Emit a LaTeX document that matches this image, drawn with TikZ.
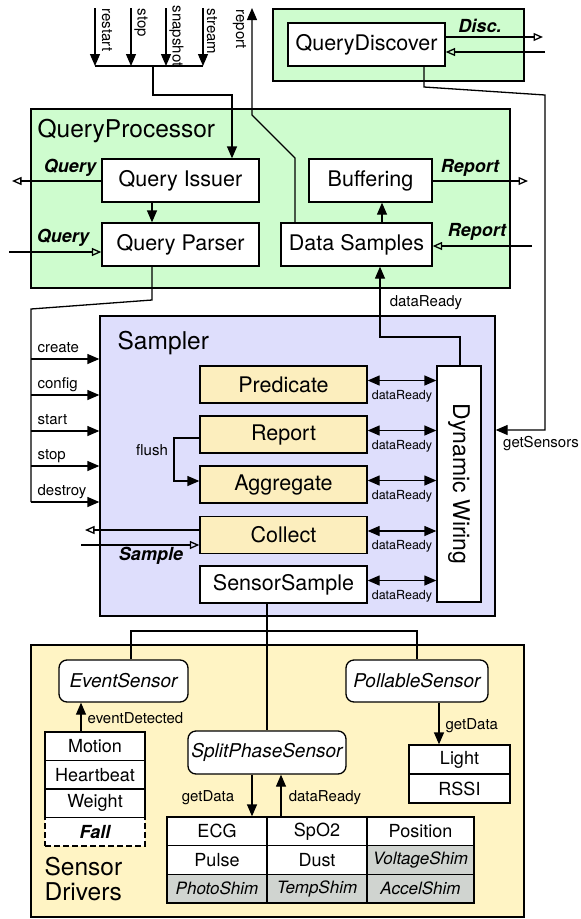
\documentclass[tikz,border=0pt]{standalone}
\usepackage{fontspec}
\setmainfont{TeX Gyre Heros}
\usetikzlibrary{arrows.meta}
\definecolor{qpgreen}{RGB}{206,252,206}
\definecolor{lav}{RGB}{222,222,252}
\definecolor{sdyellow}{RGB}{255,244,196}
\definecolor{byellow}{RGB}{252,238,190}
\definecolor{shimgray}{RGB}{208,212,208}
\newcommand{\fsz}[1]{\fontsize{#1}{#1}\selectfont}
\begin{document}
\begin{tikzpicture}[x=1pt,y=-1pt,line width=1.3pt,
  box/.style={draw,fill=white,inner sep=0pt,font=\fsz{21.5}},
  ybox/.style={box,fill=byellow,minimum width=167pt,minimum height=37pt},
  grp/.style={draw,inner sep=0pt},
  arr/.style={-{Triangle[length=12pt,width=10pt]}},
  oarr/.style={-{Triangle[open,length=9.5pt,width=8pt]}},
  barr/.style={{Triangle[length=12pt,width=10pt]}-{Triangle[length=12pt,width=10pt]}},
  lbl/.style={font=\fsz{15},inner sep=0pt},
  slbl/.style={font=\fsz{12.5},inner sep=0pt},
  bil/.style={font=\bfseries\itshape\fsz{18},inner sep=0pt},
  ttl/.style={font=\fsz{24.5},anchor=west,inner sep=0pt},
  cell/.style={draw,fill=white,minimum width=100pt,minimum height=28.5pt,inner sep=0pt,font=\fsz{18}},
  gcell/.style={cell,minimum height=28.7pt},
  shim/.style={gcell,fill=shimgray,font=\itshape\fsz{17}},
  sens/.style={draw,fill=white,rounded corners=8pt,inner sep=0pt,font=\itshape\fsz{19}}]
\fill[white] (0,0) rectangle (581,919);
\useasboundingbox (0,0) rectangle (581,919);

% ---------- group rectangles ----------
\node[grp,fill=qpgreen,minimum width=251pt,minimum height=72pt] (dg) at (398.5,45) {};
\node[grp,fill=qpgreen,minimum width=479pt,minimum height=179pt] (qp) at (270.5,198.5) {};
\node[grp,fill=lav,minimum width=395pt,minimum height=300pt] (sampler) at (297.5,466) {};
\node[grp,fill=sdyellow,minimum width=493pt,minimum height=272pt] (sd) at (277.5,781) {};

% ---------- titles ----------
\node[ttl] (tqp) at (37,131) {QueryProcessor};
\node[ttl] (tsa) at (117,343) {Sampler};
\node[font=\fsz{24.5},anchor=north west,align=left,inner sep=0pt] (tsd) at (44,857) {\fontsize{24.5}{26}\selectfont Sensor\\Drivers};

% ---------- Discovery ----------
\node[box,minimum width=157pt,minimum height=43pt] (qd) at (366.5,44.5) {QueryDiscover};
\node[bil] (ldisc) at (480,26) {Disc.};
\coordinate (qdo) at (543,37);
\coordinate (qdi) at (545,52);
\draw[oarr] (qd.east |- qdo) -- (qdo);
\draw[oarr] (qdi) -- (qd.east |- qdi);

% ---------- QueryProcessor boxes ----------
\node[box,minimum width=157pt,minimum height=43pt] (qi) at (180.5,180.5) {Query Issuer};
\node[box,minimum width=157pt,minimum height=43pt] (qpa) at (180.5,244.5) {Query Parser};
\node[box,minimum width=123pt,minimum height=43pt] (buf) at (370.5,180.5) {Buffering};
\node[box,minimum width=151pt,minimum height=43pt] (ds) at (356.5,244.5) {Data Samples};

\node[bil] (lq1) at (70,168) {Query};
\node[bil] (lq2) at (63,238) {Query};
\node[bil] (lr1) at (470,168) {Report};
\node[bil] (lr2) at (477,232) {Report};

\coordinate (qo) at (12,181);
\coordinate (pin) at (9,252);
\coordinate (bo) at (528,181);
\coordinate (dsi) at (532,246);
\draw[oarr] (qi.west |- qo) -- (qo);
\draw[oarr] (pin) -- (qpa.west |- pin);
\draw[oarr] (buf.east |- bo) -- (bo);
\draw[oarr] (dsi) -- (ds.east |- dsi);
\coordinate (x152) at (152,0);
\coordinate (x382) at (382,0);
\draw[arr] (qi.south -| x152) -- (qpa.north -| x152);
\draw[arr] (ds.north -| x382) -- (buf.south -| x382);

% ---------- top inputs ----------
\coordinate (t1) at (95,8);  \coordinate (b1) at (95,66);
\coordinate (t2) at (131,8); \coordinate (b2) at (131,66);
\coordinate (t3) at (166,8); \coordinate (b3) at (166,66);
\coordinate (t4) at (203,8); \coordinate (b4) at (203,66);
\draw[arr] (t1) -- (b1);
\draw[arr] (t2) -- (b2);
\draw[arr] (t3) -- (b3);
\draw[arr] (t4) -- (b4);
\draw (b1) -- (b4);
\node[lbl,rotate=-90,anchor=west] (lrestart) at (107,8) {restart};
\node[lbl,rotate=-90,anchor=west] (lstop) at (141,8) {stop};
\node[lbl,rotate=-90,anchor=west] (lsnap) at (176.5,5) {snapshot};
\node[lbl,rotate=-90,anchor=west] (lstream) at (212,8) {stream};
\coordinate (j1) at (153,66);
\coordinate (j2) at (153,95);
\coordinate (j3) at (232,95);
\draw[arr] (j1) -- (j2) -- (j3) -- (qi.north -| j3);

% report output
\coordinate (rp1) at (295,158);
\coordinate (rp2) at (252,115);
\coordinate (rptop) at (252,8);
\draw[arr] (ds.north -| rp1) -- (rp1) -- (rp2) -- (rptop);
\node[lbl,rotate=-90,anchor=west] (lreport) at (239.5,9) {report};

% QueryDiscover -> getSensors
\coordinate (g1) at (424,87);
\coordinate (g2) at (545,95);
\coordinate (g3) at (545,430);
\draw[arr] (qd.south -| g1) -- (g1) -- (g2) -- (g3) -- (sampler.east |- g3);
\node[lbl] (lgs) at (541,444) {getSensors};

% ---------- Sampler ----------
\node[ybox] (pr) at (283.5,384.5) {Predicate};
\node[ybox] (rep) at (283.5,434.5) {Report};
\node[ybox] (agg) at (283.5,484.5) {Aggregate};
\node[ybox] (col) at (283.5,535) {Collect};
\node[box,minimum width=167pt,minimum height=37pt] (ss) at (283.5,584.5) {SensorSample};
\node[box,minimum width=44pt,minimum height=236pt] (dw) at (459,484) {};
\node[font=\fsz{23},rotate=-90,inner sep=0pt] (ldw) at (dw.center) {Dynamic Wiring};

\foreach \n in {pr,rep,agg,col,ss}{
  \draw[barr] ([yshift=4pt]\n.east) -- ([yshift=4pt]\n.east -| dw.west)
     node[slbl,midway,below=9pt] {dataReady};
}

\coordinate (w1) at (460,337);
\coordinate (w2) at (380,337);
\draw[arr] (dw.north -| w1) -- (w1) -- (w2) -- (ds.south -| w2);
\node[lbl] (ldr) at (426,303) {dataReady};

% commands from parser
\coordinate (p1) at (152,300);
\coordinate (p2) at (31,309);
\coordinate (p3) at (31,502);
\draw (qpa.south -| p1) -- (p1) -- (p2) -- (p3);
\foreach \y/\t in {359/create,395/config,431/start,466/stop,502/destroy}{
  \coordinate (cmd\t) at (31,\y);
  \draw[arr] (cmd\t) -- (sampler.west |- cmd\t);
  \node[lbl,anchor=base west] at ([yshift=6.5pt,xshift=6pt]cmd\t) {\t};
}

% flush
\coordinate (f1) at (174,438);
\coordinate (f2) at (174,481);
\draw[arr] (rep.west |- f1) -- (f1) -- (f2) -- (agg.west |- f2);
\node[lbl] (lflush) at (152,450) {flush};

% collect
\coordinate (co) at (85,530);
\coordinate (ci) at (81,545);
\draw[oarr] (col.west |- co) -- (co);
\draw[oarr] (ci) -- (col.west |- ci);
\node[bil] (lsample) at (151,556) {Sample};

% ---------- Sensor drivers ----------
\node[sens,minimum width=129pt,minimum height=42pt] (es) at (123.5,681) {EventSensor};
\node[sens,minimum width=142pt,minimum height=42pt] (ps) at (417,681) {PollableSensor};
\node[sens,minimum width=158pt,minimum height=43pt] (sp) at (267,752.5) {SplitPhaseSensor};

\draw (ss.south -| sp.north) -- (sp.north);
\coordinate (h1) at (131,631);
\coordinate (h2) at (417,631);
\draw (es.north -| h1) -- (h1) -- (h2) -- (ps.north);

\node[cell] (mo) at (95,746.25) {Motion};
\node[cell] (hb) at (95,774.75) {Heartbeat};
\node[cell] (we) at (95,803.25) {Weight};
\node[cell,dash pattern=on 6pt off 3pt,font=\bfseries\itshape\fsz{18}] (fa) at (95,831.75) {Fall};
\coordinate (x81) at (81,0);
\draw[arr] (mo.north -| x81) -- (es.south -| x81);
\node[lbl,anchor=west] (led) at (87,718) {eventDetected};

\node[cell,minimum width=101pt,minimum height=29pt] (li) at (459.5,759.5) {Light};
\node[cell,minimum width=101pt,minimum height=29pt] (rs) at (459.5,788.5) {RSSI};
\coordinate (x439) at (439,0);
\draw[arr] (ps.south -| x439) -- (li.north -| x439);
\node[lbl,anchor=west] (lgd1) at (445,726) {getData};

\node[gcell] (ecg) at (217,831.35) {ECG};
\node[gcell] (spo) at (317,831.35) {SpO2};
\node[gcell,minimum width=107pt] (pos) at (420.5,831.35) {Position};
\node[gcell] (pul) at (217,860.05) {Pulse};
\node[gcell] (dus) at (317,860.05) {Dust};
\node[shim,minimum width=107pt] (vsh) at (420.5,860.05) {VoltageShim};
\node[shim] (psh) at (217,888.75) {PhotoShim};
\node[shim] (tsh) at (317,888.75) {TempShim};
\node[shim,minimum width=107pt] (ash) at (420.5,888.75) {AccelShim};

\coordinate (x252) at (252,0);
\coordinate (x281) at (281,0);
\draw[arr] (sp.south -| x252) -- (ecg.north -| x252);
\draw[arr] (spo.north -| x281) -- (sp.south -| x281);
\node[lbl] (lgd2) at (208,798) {getData};
\node[lbl] (ldr2) at (325,798) {dataReady};
\end{tikzpicture}
\end{document}
